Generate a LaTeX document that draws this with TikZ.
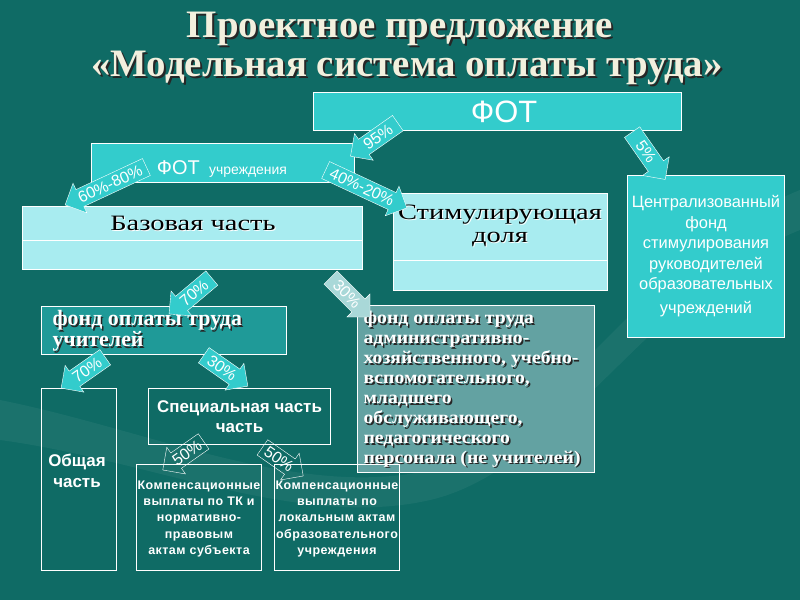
\documentclass[tikz,border=0pt]{standalone}
\usepackage{fontspec}
\setmainfont{Liberation Serif}
\setsansfont{Liberation Sans}
\newfontfamily\wideserif[FakeStretch=1.3]{Liberation Serif}
\newfontfamily\midserif[FakeStretch=1.1]{Liberation Serif}
\usetikzlibrary{shapes.arrows}
\definecolor{bgteal}{HTML}{0F6B65}
\definecolor{fotcyan}{HTML}{33CCCC}
\definecolor{basecyan}{HTML}{A8ECF0}
\definecolor{teachteal}{HTML}{1F9A98}
\definecolor{adminteal}{HTML}{63A2A2}
\definecolor{palecyan}{HTML}{A9D8D8}
\definecolor{titlecol}{HTML}{F2F0DE}
\newcommand{\fs}[1]{\fontsize{#1}{1.2\dimexpr#1pt\relax}\selectfont}

\begin{document}
\begin{tikzpicture}[x=1bp, y=-1bp,
    box/.style={rectangle, draw=white, line width=0.8pt, inner sep=0pt},
    pct/.style={single arrow, draw=white, fill=fotcyan, text=white,
        font=\sffamily\fs{16}, inner xsep=2pt, inner ysep=3.5pt,
        single arrow head extend=7pt, minimum height=#1},
    pctout/.style={pct=#1, fill=none},
    wtext/.style={text=white, font=\sffamily\bfseries\fs{17}, align=center},
    comptext/.style={text=white, font=\sffamily\bfseries\fontsize{12.5}{16.3}\selectfont\addfontfeature{LetterSpace=4}, align=center}]

% background
\fill[bgteal] (0,0) rectangle (800,600);
\fill[white, opacity=0.05] (0,400) .. controls (150,430) and (300,500) .. (430,470)
    .. controls (550,440) and (650,250) .. (800,190) -- (800,230)
    .. controls (650,290) and (560,470) .. (430,500) .. controls (300,530) and (150,460) .. (0,440) -- cycle;

% title
\node[text=black!85, font=\bfseries\fs{39}] (t1s) at (402,31) {Проектное предложение};
\node[text=titlecol, font=\bfseries\fs{39}] (t1) at (400,29) {Проектное предложение};
\node[text=black!85, font=\bfseries\fs{39}] (t2s) at (409,70) {«Модельная система оплаты труда»};
\node[text=titlecol, font=\bfseries\fs{39}] (t2) at (407,68) {«Модельная система оплаты труда»};

% upper boxes
\node[box, fill=fotcyan, minimum width=369, minimum height=38] (fot) at (497.5,111) {};
\node[text=white, font=\sffamily\fs{31}] (fottxt) at (504,112) {ФОТ};
\node[box, fill=fotcyan, minimum width=264, minimum height=39] (fotu) at (223,162.5) {};
\node[text=white, font=\sffamily\fs{20}] (fotutxt) at (222,169) {ФОТ {\fs{14}\ учреждения}};

\node[box, fill=basecyan, minimum width=341, minimum height=64] (base) at (192.5,238) {};
\draw[white, line width=0.8pt] (base.west |- 0,240) -- (base.east |- 0,240);
\node[text=white, font=\wideserif\fs{22}] (basesh) at (194,224) {Базовая часть};
\node[text=black, font=\wideserif\fs{22}] (basetxt) at (193,223) {Базовая часть};

\node[box, fill=basecyan, minimum width=215, minimum height=98] (stim) at (500.5,242) {};
\draw[white, line width=0.8pt] (stim.west |- 0,260) -- (stim.east |- 0,260);
\node[text=white, font=\wideserif\fs{22}, align=center] (stimsh) at (501,227) {Стимулирующая\\[-3pt]доля};
\node[text=black, font=\wideserif\fs{22}, align=center] (stimtxt) at (500,226) {Стимулирующая\\[-3pt]доля};

\node[box, fill=fotcyan, minimum width=158, minimum height=163, text=white,
    font=\sffamily\fontsize{16.5}{20.5}\selectfont, align=center] (central) at (706,256.5)
    {Централизованный\\фонд\\стимулирования\\руководителей\\образовательных\\[4pt]учреждений};

% middle boxes
\node[box, fill=teachteal, minimum width=246, minimum height=48] (teach) at (164,330) {};
\node[text=black!85, font=\bfseries\fontsize{22}{19}\selectfont, align=left, anchor=north west] (teachsh)
    at (50.5,308.5) {фонд оплаты труда\\учителей};
\node[text=white, font=\bfseries\fontsize{22}{19}\selectfont, align=left, anchor=north west] (teachtxt)
    at (49,307) {фонд оплаты труда\\учителей};

\node[box, fill=adminteal, minimum width=238, minimum height=168] (admin) at (476,389) {};
\node[text=black!85, font=\midserif\bfseries\fontsize{18}{20}\selectfont, align=left, anchor=north west] (adminsh)
    at (361.5,309.5) {фонд оплаты труда\\административно-\\хозяйственного, учебно-\\вспомогательного,\\младшего\\обслуживающего,\\педагогического\\персонала (не учителей)};
\node[text=white, font=\midserif\bfseries\fontsize{18}{20}\selectfont, align=left, anchor=north west] (admintxt)
    at (360,308) {фонд оплаты труда\\административно-\\хозяйственного, учебно-\\вспомогательного,\\младшего\\обслуживающего,\\педагогического\\персонала (не учителей)};

% lower boxes
\node[box, minimum width=76, minimum height=183] (common) at (79,479.5) {};
\node[wtext] (commontxt) at (77,471) {Общая\\часть};
\node[box, minimum width=183, minimum height=57, wtext] (special) at (239.5,416.5) {Специальная часть\\часть};
\node[box, minimum width=126, minimum height=107] (compa) at (199,517.5) {};
\node[comptext] (compatxt) at (199,519) {Компенсационные\\выплаты по ТК и\\нормативно-\\правовым\\актам субъекта};
\node[box, minimum width=126, minimum height=107] (compb) at (337,517.5) {};
\node[comptext] (compbtxt) at (337,519) {Компенсационные\\выплаты по\\локальным актам\\образовательного\\учреждения};

% percentage arrows
\node[pct=58, rotate=35, shape border rotate=180] (p95) at (378,137) {95\%};
\node[pct=90, rotate=25, shape border rotate=180] (p6080) at (110,184) {60\%-80\%};
\node[pct=90, rotate=-25] (p4020) at (362,187) {40\%-20\%};
\node[pct=58, rotate=-55] (p5) at (646,152) {5\%};
\node[pct=56, rotate=40, shape border rotate=180] (p70a) at (194,293) {70\%};
\node[pct=56, rotate=-45, fill=palecyan] (p30a) at (347,294) {30\%};
\node[pct=54, rotate=35, shape border rotate=180] (p70b) at (87,370) {70\%};
\node[pct=54, rotate=-35] (p30b) at (222,368) {30\%};
\node[pctout=50, rotate=35, shape border rotate=180] (p50a) at (187,453) {50\%};
\node[pctout=50, rotate=-35] (p50b) at (279,459) {50\%};
\end{tikzpicture}
\end{document}
